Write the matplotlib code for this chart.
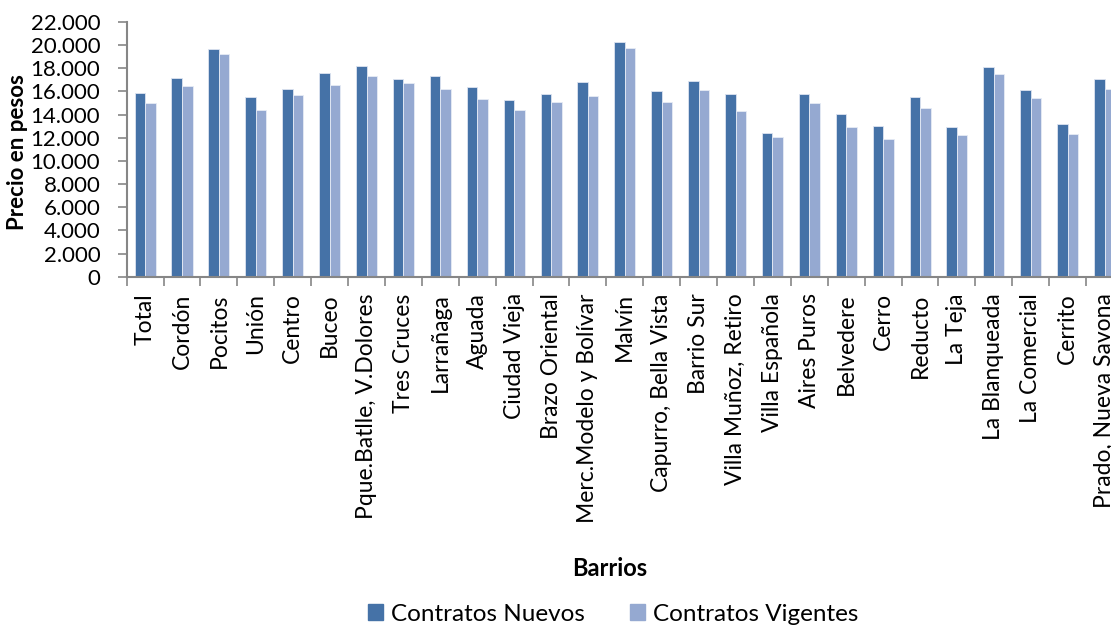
import matplotlib.pyplot as plt
from matplotlib.patches import Patch
from matplotlib.ticker import FuncFormatter
import numpy as np

plt.rcParams['font.family'] = ['Lato', 'DejaVu Sans']

# barrios de Montevideo
barrios = ['Total', 'Cordón', 'Pocitos', 'Unión', 'Centro', 'Buceo',
           'Pque.Batlle, V.Dolores', 'Tres Cruces', 'Larrañaga', 'Aguada',
           'Ciudad Vieja', 'Brazo Oriental', 'Merc.Modelo y Bolívar', 'Malvín',
           'Capurro, Bella Vista', 'Barrio Sur', 'Villa Muñoz, Retiro',
           'Villa Española', 'Aires Puros', 'Belvedere', 'Cerro', 'Reducto',
           'La Teja', 'La Blanqueada', 'La Comercial', 'Cerrito',
           'Prado, Nueva Savona']

# precios (pesos)
nuevos = [15850, 17120, 19650, 15480, 16250, 17630, 18180, 17060, 17340, 16370,
          15300, 15740, 16800, 20310, 16020, 16910, 15740, 12370, 15760, 14040,
          13000, 15530, 12970, 18090, 16130, 13170, 17060]
vigentes = [14960, 16430, 19270, 14380, 15680, 16600, 17320, 16740, 16220, 15390,
            14440, 15100, 15620, 19790, 15100, 16110, 14300, 12030, 14990, 12920,
            11910, 14530, 12280, 17490, 15420, 12310, 16170]

c_nuevos = '#4572A7'
c_vigentes = '#95A9D1'

fig = plt.figure(figsize=(11.11, 6.28), dpi=100)
ax = fig.add_axes([0.114, 0.5594, 0.8968, 0.4056])

x = np.arange(len(barrios))
w = 0.285
ax.bar(x - w / 2, nuevos, w, color=c_nuevos, edgecolor='#dde4f0', linewidth=0.6)
ax.bar(x + w / 2, vigentes, w, color=c_vigentes, edgecolor='#e6ebf5', linewidth=0.6)

ax.set_xlim(-0.5, len(barrios) - 0.5)
ax.set_ylim(0, 22000)
ax.set_yticks(np.arange(0, 22001, 2000))
ax.yaxis.set_major_formatter(FuncFormatter(lambda v, p: f'{int(v):,}'.replace(',', '.')))

# ticks between categories, labels at centres
ax.set_xticks(np.arange(len(barrios) + 1) - 0.5)
ax.set_xticklabels([])
ax.set_xticks(x, minor=True)
ax.set_xticklabels(barrios, minor=True, rotation=90, fontsize=16.5)
ax.tick_params(axis='x', which='minor', length=0, pad=12)
ax.tick_params(axis='x', which='major', length=6.5, width=1.2, color='#868686')
ax.tick_params(axis='y', length=6.5, width=1.2, color='#868686', labelsize=16, pad=12.5)

for s in ['top', 'right']:
    ax.spines[s].set_visible(False)
for s in ['left', 'bottom']:
    ax.spines[s].set_color('#868686')
    ax.spines[s].set_linewidth(1.5)

fig.text(0.016, 0.758, 'Precio en pesos', rotation=90, ha='center', va='center',
         fontsize=16, fontweight='bold')
fig.text(0.549, 0.094, 'Barrios', ha='center', va='center', fontsize=17, fontweight='bold')

handles = [Patch(color=c_nuevos, label='Contratos Nuevos'),
           Patch(color=c_vigentes, label='Contratos Vigentes')]
fig.legend(handles=handles, loc='center', bbox_to_anchor=(0.552, 0.022), ncol=2,
           frameon=False, fontsize=17.5, handlelength=0.6, handleheight=0.6,
           handletextpad=0.35, columnspacing=1.85, borderpad=0)

fig.savefig('out.png', dpi=100)
